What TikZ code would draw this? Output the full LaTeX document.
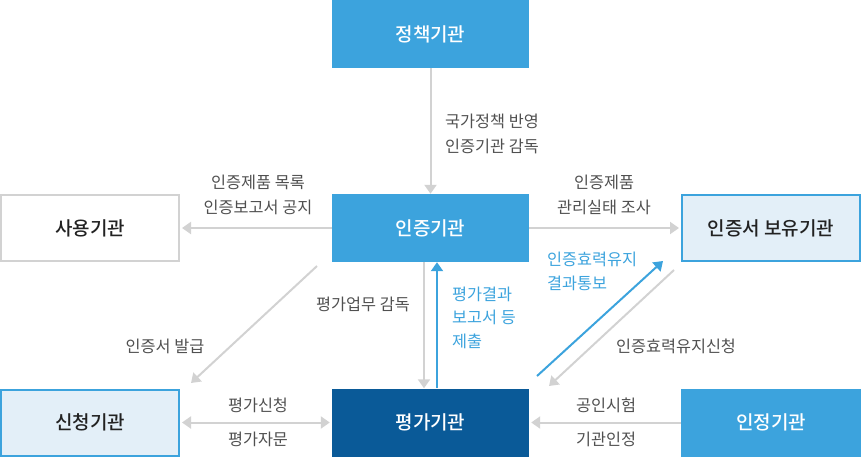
\documentclass[tikz,border=0pt]{standalone}
\usepackage{fontspec}
\setmainfont{Noto Sans CJK KR}
\newfontfamily\medfont{Noto Sans CJK KR Medium}
\usetikzlibrary{arrows.meta,positioning}
\definecolor{orgblue}{RGB}{60,163,221}
\definecolor{deepblue}{RGB}{10,90,152}
\definecolor{paleblue}{RGB}{227,239,248}
\definecolor{linegray}{RGB}{210,210,210}
\definecolor{notegray}{RGB}{80,80,80}
\definecolor{boxtext}{RGB}{34,34,34}
\tikzset{>={Triangle[length=9pt,width=12pt]}}
\tikzset{
  box/.style={minimum width=197pt, minimum height=68pt, inner sep=0pt,
    font=\medfont\fontsize{19}{22}\selectfont},
  bluebox/.style={box, fill=orgblue, text=white},
  darkbox/.style={box, fill=deepblue, text=white},
  greybox/.style={box, minimum width=178pt, minimum height=66pt,
    draw=linegray, line width=2pt, text=boxtext},
  lightbox/.style={box, minimum width=178pt, minimum height=66pt,
    fill=paleblue, draw=orgblue, line width=2pt, text=boxtext},
  flow/.style={->, line width=2pt, draw=linegray, fill=linegray},
  result/.style={->, line width=2pt, draw=orgblue, fill=orgblue},
  note/.style={font=\fontsize{16.3}{25}\selectfont, text=notegray, align=center, inner sep=0pt},
  bluenote/.style={note, text=orgblue, align=left},
}

\begin{document}
\begin{tikzpicture}[x=1pt, y=-1pt]
  \useasboundingbox (0,0) rectangle (861,456);
  % organisations
  \node[bluebox] (policy) at (430.5,34) {정책기관};
  \node[bluebox] (cert) at (430.5,228) {인증기관};
  \node[greybox] (user) at (90,228) {사용기관};
  \node[lightbox] (holder) at (771,228) {인증서 보유기관};
  \node[lightbox] (applicant) at (90,422.5) {신청기관};
  \node[darkbox] (eval) at (430.5,422.5) {평가기관};
  \node[bluebox, minimum width=180pt] (accred) at (771,422.5) {인정기관};
  % free ends of the diagonal arrows
  \coordinate (issueA) at (317,266);
  \coordinate (issueB) at (191,383);
  \coordinate (keepA) at (674,270);
  \coordinate (keepB) at (549,386);
  \coordinate (noticeA) at (537,376);
  \coordinate (noticeB) at (663,261);
  % connectors
  \draw[flow] (policy.south) -- (cert.north);
  \draw[flow, shorten >=2pt] (cert.west) -- (user.east);
  \draw[flow, shorten >=2pt] (cert.east) -- (holder.west);
  \draw[flow] (issueA) -- (issueB);
  \draw[flow] ([xshift=-6.5pt]cert.south) -- ([xshift=-6.5pt]eval.north);
  \draw[result] ([xshift=6.5pt]eval.north) -- ([xshift=6.5pt]cert.south);
  \draw[flow, <->, shorten <=2pt, shorten >=2pt] (applicant.east) -- (eval.west);
  \draw[flow, shorten >=2pt] (accred.west) -- (eval.east);
  \draw[flow] (keepA) -- (keepB);
  \draw[result] (noticeA) -- (noticeB);
  % labels
  \node[note, align=left, anchor=west] (policynote) at (445,133.5) {국가정책 반영\\인증기관 감독};
  \node[note] (usernote) at (258,194.5) {인증제품 목록\\인증보고서 공지};
  \node[note] (holdernote) at (604,194.5) {인증제품\\관리실태 조사};
  \node[note, anchor=east] (supervise) at (410,304) {평가업무 감독};
  \node[bluenote, font=\fontsize{16.3}{23.5}\selectfont, anchor=west] (report) at (452,317.5) {평가결과\\보고서 등\\제출};
  \node[bluenote, font=\fontsize{16.3}{24}\selectfont, anchor=west] (notice) at (547,271) {인증효력유지\\결과통보};
  \node[note] (issue) at (165,346) {인증서 발급};
  \node[note] (keep) at (676,346) {인증효력유지신청};
  \node[note] (apply) at (258,405) {평가신청};
  \node[note] (advise) at (258,439) {평가자문};
  \node[note] (test) at (606,405) {공인시험};
  \node[note] (accredit) at (606,439) {기관인정};
\end{tikzpicture}
\end{document}
